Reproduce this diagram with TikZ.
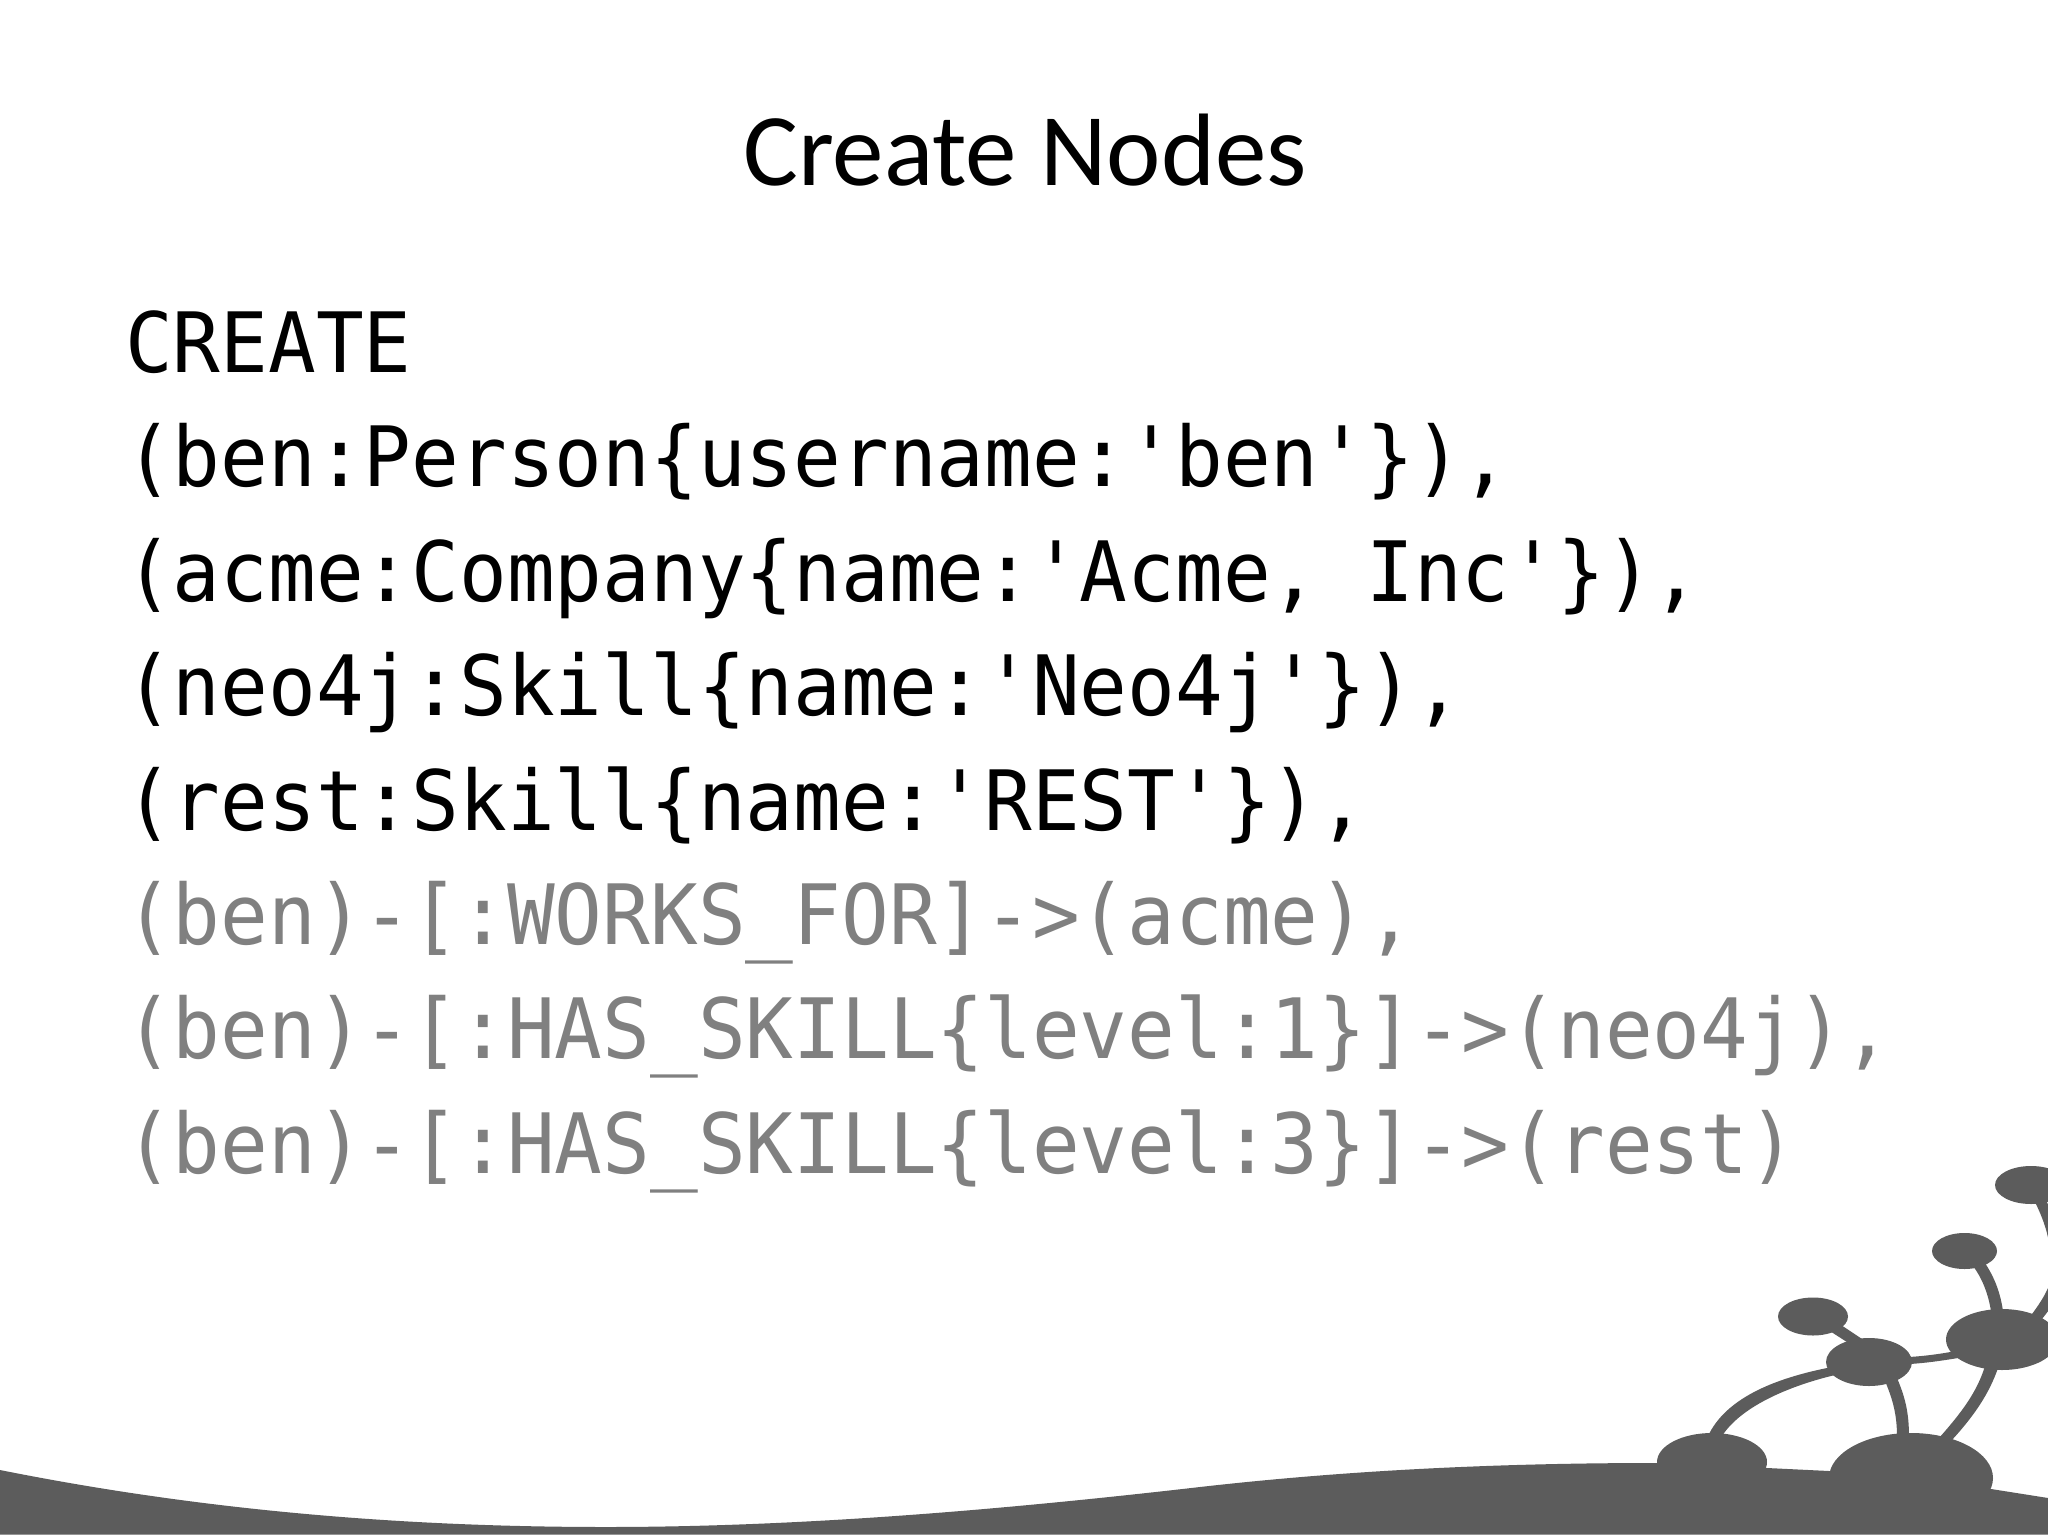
\documentclass[tikz,border=0pt]{standalone}
\usepackage{graphicx}
\usepackage{fontspec}
\setmainfont{Carlito}
\newfontfamily\codefont{DejaVu Sans Mono}
\newcommand{\tall}[1]{\scalebox{1}[1.05]{#1}}
\definecolor{logo}{HTML}{5C5C5C}
\definecolor{dim}{HTML}{808080}
\tikzset{
  codeline/.style={anchor=base west,inner sep=0pt,font=\fontsize{79.3}{90}\codefont},
  dimline/.style={codeline,text=dim},
  titletext/.style={anchor=base,inner sep=0pt,font=\fontsize{103}{118}\selectfont,text=black},
  shp/.style={fill=logo,draw=none}
}
\begin{document}
\begin{tikzpicture}[x=1pt,y=-1pt]
\useasboundingbox (0,0) rectangle (2048,1536);
\fill[white] (0,0) rectangle (2048,1536);
\node[titletext] (title) at (1025,185) {Create Nodes};
\node[codeline] (l1) at (125,372) {\tall{CREATE}};
\node[codeline] (l2) at (125,486) {\tall{(ben:Person\{username:'ben'\}),}};
\node[codeline] (l3) at (125,601) {\tall{(acme:Company\{name:'Acme, Inc'\}),}};
\node[codeline] (l4) at (125,715) {\tall{(neo4j:Skill\{name:'Neo4j'\}),}};
\node[codeline] (l5) at (125,830) {\tall{(rest:Skill\{name:'REST'\}),}};
\node[dimline] (l6) at (125,944) {\tall{(ben)-[:WORKS\_FOR]->(acme),}};
\node[dimline] (l7) at (125,1058) {\tall{(ben)-[:HAS\_SKILL\{level:1\}]->(neo4j),}};
\node[dimline] (l8) at (125,1173) {\tall{(ben)-[:HAS\_SKILL\{level:3\}]->(rest)}};
\begin{scope}
\clip (0,0) rectangle (2048,1536);
% ground
\fill[shp] (0,1470) .. controls (200,1510) and (400,1527) .. (606,1527)
  .. controls (800,1527) and (1000,1510) .. (1200,1487)
  .. controls (1350,1470) and (1500,1463) .. (1657,1463)
  -- (1767,1468) -- (1829,1471) -- (1991,1489) -- (2048,1498) -- (2048,1534.5) -- (0,1534.5) -- cycle;
% discs
\fill[shp] (2031,1185) ellipse [x radius=36,y radius=19];
\fill[shp] (1964.5,1251) ellipse [x radius=32.5,y radius=18];
\fill[shp] (1813,1316.5) ellipse [x radius=35,y radius=19];
\fill[shp] (1869,1362) ellipse [x radius=43,y radius=24];
\fill[shp] (2002,1339.5) ellipse [x radius=56,y radius=30.5];
\fill[shp] (1712,1462) ellipse [x radius=55,y radius=29];
\fill[shp] (1911,1478) ellipse [x radius=82,y radius=45];
% stems
\fill[shp] (1708,1436) .. controls (1725,1400) and (1770,1379) .. (1832,1367)
  -- (1835,1375) .. controls (1785,1387) and (1740,1408) .. (1722,1436) -- cycle;
\fill[shp] (1885,1381) .. controls (1893,1400) and (1897,1415) .. (1897,1437)
  -- (1909,1437) .. controls (1909,1412) and (1905,1397) .. (1897,1378) -- cycle;
\fill[shp] (1985,1366) .. controls (1977,1392) and (1962,1412) .. (1939,1438)
  -- (1951,1441) .. controls (1974,1416) and (1989,1394) .. (1998,1368) -- cycle;
\fill[shp] (1909,1357) .. controls (1925,1356) and (1940,1354) .. (1956,1351)
  -- (1958,1358) .. controls (1940,1361) and (1925,1363) .. (1910,1364) -- cycle;
\fill[shp] (1838,1323) -- (1862,1339) -- (1850,1344) -- (1822,1326) -- cycle;
\fill[shp] (1973,1266) .. controls (1982,1278) and (1988,1293) .. (1991,1311)
  -- (2003,1311) .. controls (2000,1291) and (1994,1277) .. (1985,1263) -- cycle;
\fill[shp] (2034,1200) .. controls (2045,1222) and (2056,1250) .. (2048,1288)
  .. controls (2044,1297) and (2038,1306) .. (2032,1314)
  -- (2042,1319) .. controls (2048,1311) and (2056,1303) .. (2062,1280)
  .. controls (2066,1250) and (2056,1222) .. (2046,1200) -- cycle;
\end{scope}
\end{tikzpicture}
\end{document}
